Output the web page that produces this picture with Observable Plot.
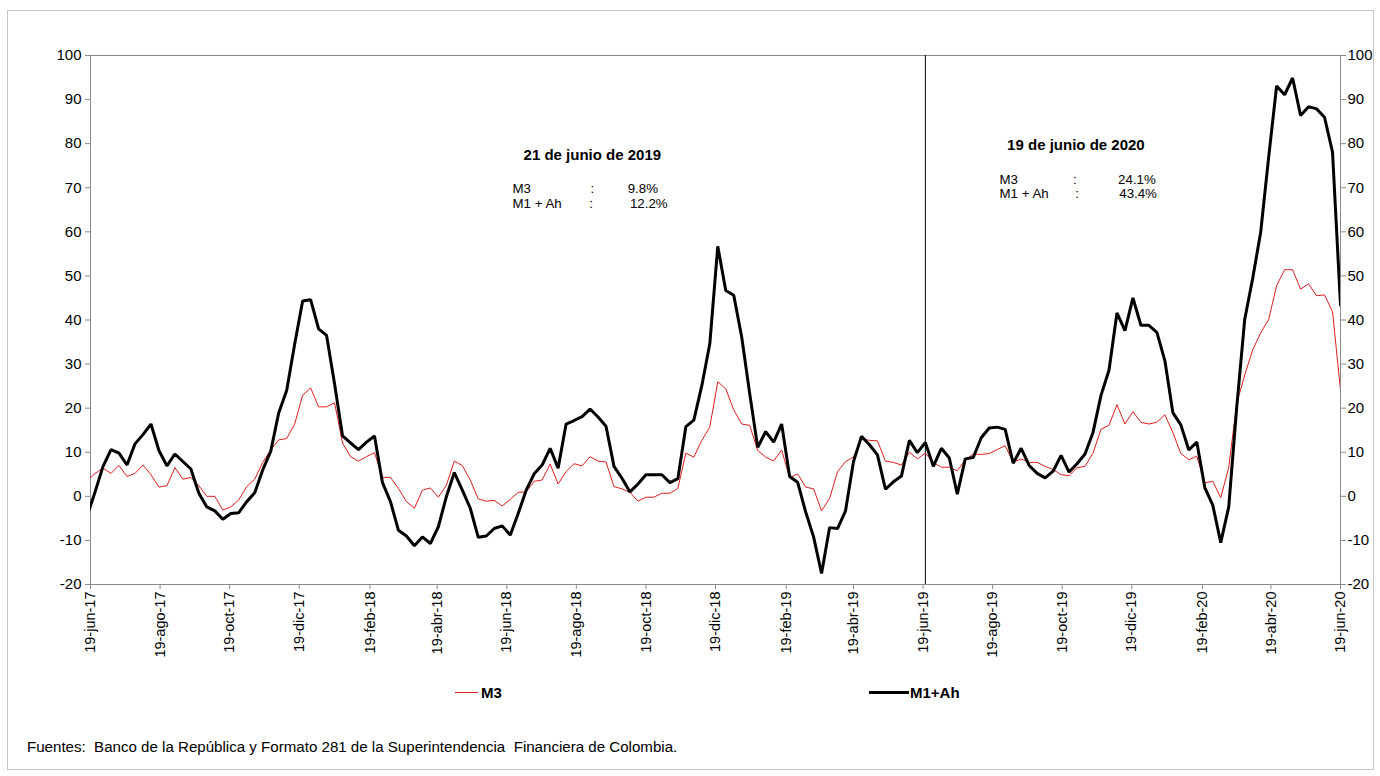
<!DOCTYPE html>
<html>
<head>
<meta charset="utf-8">
<script src="https://cdn.jsdelivr.net/npm/d3@7"></script>
<script src="https://cdn.jsdelivr.net/npm/@observablehq/plot@0.6"></script>
<style>
  html, body { margin: 0; padding: 0; background: #fff; }
  body { width: 1380px; height: 776px; position: relative; overflow: hidden; font-family: "Liberation Sans", Arial, sans-serif; }
  #border { position: absolute; left: 7px; top: 10px; width: 1365px; height: 758px; border: 1px solid #c8c8c8; }
  #chart { position: absolute; left: 0; top: 0; }
  .leg { position: absolute; font-weight: bold; font-size: 15px; color: #000; line-height: 16px; }
  .legline { position: absolute; }
  #footer { position: absolute; left: 27px; top: 738px; font-size: 15.1px; color: #000; line-height: 18px; white-space: nowrap; }
</style>
</head>
<body>
<div id="border"></div>
<div id="chart"></div>
<div class="legline" style="left:455px; top:692px; width:23px; height:1px; background:#e01e1e;"></div>
<div class="leg" style="left:481px; top:685px;">M3</div>
<div class="legline" style="left:869px; top:691px; width:40px; height:3px; background:#000;"></div>
<div class="leg" style="left:910px; top:685px;">M1+Ah</div>
<div id="footer">Fuentes:&nbsp; Banco de la República y Formato 281 de la Superintendencia&nbsp; Financiera de Colombia.</div>
<script>
// ---- Data (weekly, first date 2017-06-16) ----
const firstDate = "2017-06-16";
const m3 = [3.5,
5.2,6.4,5.2,7.0,4.5,5.2,7.1,4.9,2.1,2.4,6.5,3.9,4.3,2.4,0.0,0.0,-3.1,-2.4,-0.8,2.2,
3.9,7.7,10.5,12.8,13.1,16.4,22.9,24.6,20.3,20.3,21.2,12.1,9.0,8.0,9.0,9.9,4.3,4.3,1.8,-1.2,
-2.7,1.4,1.9,-0.2,2.5,8.0,7.0,3.7,-0.6,-1.1,-0.9,-2.2,-0.7,0.9,1.0,3.4,3.7,7.3,2.8,5.6,
7.4,6.9,9.0,8.0,7.8,2.2,1.7,0.9,-1.1,-0.2,-0.2,0.7,0.7,1.8,9.8,8.9,12.7,15.7,26.0,24.4,
19.6,16.4,16.1,10.4,8.9,8.0,10.5,4.2,5.1,2.1,1.7,-3.3,-0.5,5.6,7.9,8.9,13.0,12.7,12.6,8.0,
7.7,7.1,10.0,8.5,9.8,7.7,6.6,6.6,5.8,8.3,9.6,9.5,9.7,10.6,11.5,7.7,8.5,7.7,7.7,6.8,
6.1,4.9,4.7,6.5,6.8,9.8,15.2,16.1,20.8,16.4,19.2,16.8,16.4,16.8,18.5,14.5,9.7,8.3,9.1,3.1,
3.4,-0.3,6.5,21.1,27.5,33.2,37.1,40.1,47.8,51.4,51.4,47.0,48.2,45.5,45.7,41.9,24.1];
const m1ah = [-4.5,
1.0,6.8,10.6,9.8,7.1,11.9,14.0,16.4,10.4,6.9,9.6,7.9,6.2,0.7,-2.4,-3.3,-5.2,-3.9,-3.7,-1.2,
0.8,6.0,10.2,18.9,24.0,34.5,44.3,44.6,38.0,36.5,25.5,13.7,12.1,10.6,12.3,13.7,3.1,-1.2,-7.7,-9.0,
-11.2,-9.2,-10.7,-6.9,-0.1,5.4,1.4,-2.7,-9.3,-9.0,-7.3,-6.7,-8.8,-3.9,1.4,5.1,7.1,10.9,6.4,16.4,
17.2,18.1,19.8,18.0,15.9,6.8,4.1,1.0,2.8,4.9,4.9,4.9,3.1,4.0,15.8,17.3,25.1,34.6,56.7,46.7,
45.6,36.1,23.3,11.1,14.7,12.3,16.4,4.5,3.2,-3.5,-9.2,-17.5,-7.1,-7.3,-3.3,7.9,13.6,11.7,9.4,1.6,
3.3,4.6,12.7,9.9,12.2,6.8,10.9,8.7,0.5,8.5,8.8,13.3,15.5,15.7,15.2,7.5,10.9,7.0,5.2,4.2,
5.7,9.3,5.5,7.4,9.6,14.5,22.9,28.6,41.6,37.6,45.0,38.8,38.8,37.2,30.8,19.0,16.2,10.5,12.3,2.0,
-2.0,-10.5,-2.4,20.2,40.1,49.4,59.9,76.9,93.1,91.1,94.9,86.4,88.4,87.9,86.0,78.1,43.4];

const xTickLabels = ["19-jun-17","19-ago-17","19-oct-17","19-dic-17","19-feb-18","19-abr-18","19-jun-18","19-ago-18","19-oct-18","19-dic-18","19-feb-19","19-abr-19","19-jun-19","19-ago-19","19-oct-19","19-dic-19","19-feb-20","19-abr-20","19-jun-20"];
const yTicks = [-20,-10,0,10,20,30,40,50,60,70,80,90,100];
const markerDate = "2019-06-21";

// annotation texts
const annTitles = [
  {date: "2018-09-02", y: 77.3, text: "21 de junio de 2019"},
  {date: "2019-10-31", y: 79.6, text: "19 de junio de 2020"}
];
const annLabels = [
  {date: "2018-06-24", y: 69.8, text: "M3"},
  {date: "2018-06-24", y: 66.4, text: "M1 + Ah"},
  {date: "2019-08-25", y: 71.9, text: "M3"},
  {date: "2019-08-25", y: 68.7, text: "M1 + Ah"}
];
const annColons = [
  {date: "2018-09-02", y: 69.8, text: ":"},
  {date: "2018-09-01", y: 66.4, text: ":"},
  {date: "2019-10-30", y: 71.9, text: ":"},
  {date: "2019-11-01", y: 68.7, text: ":"}
];
const annValues = [
  {date: "2018-10-03", y: 69.8, text: "9.8%"},
  {date: "2018-10-05", y: 66.4, text: "12.2%"},
  {date: "2019-12-07", y: 71.9, text: "24.1%"},
  {date: "2019-12-08", y: 68.7, text: "43.4%"}
];

// ---- build ----
const monthIdx = {ene:0,feb:1,mar:2,abr:3,may:4,jun:5,jul:6,ago:7,sep:8,oct:9,nov:10,dic:11};
const parseLabel = s => { const [dd, mon, yy] = s.split("-"); return new Date(Date.UTC(2000 + +yy, monthIdx[mon], +dd)); };
const xTickDates = xTickLabels.map(parseLabel);
const labelMap = new Map(xTickDates.map((d, i) => [+d, xTickLabels[i]]));
const d0 = new Date(firstDate + "T00:00:00Z");
const dateAt = i => new Date(+d0 + i * 7 * 864e5);
const m3Data = m3.map((v, i) => ({date: dateAt(i), v}));
const m1Data = m1ah.map((v, i) => ({date: dateAt(i), v}));
const toD = a => a.map(o => ({...o, date: new Date(o.date + "T00:00:00Z")}));

const axisStroke = "#8a8a8a";
const chart = Plot.plot({
  width: 1380,
  height: 680,
  marginLeft: 90,
  marginRight: 40,
  marginTop: 55,
  marginBottom: 96,
  x: {type: "utc", domain: [xTickDates[0], xTickDates[xTickDates.length - 1]]},
  y: {domain: [-20, 100]},
  style: {fontFamily: "'Liberation Sans', Arial, sans-serif", fontSize: "13px", color: "#000", background: "transparent", overflow: "visible"},
  marks: [
    Plot.frame({stroke: axisStroke}),
    Plot.axisY({anchor: "left", ticks: yTicks, tickSize: 5, tickPadding: 4, stroke: axisStroke, fill: "#000", fontSize: 15, label: null, tickFormat: d => String(d)}),
    Plot.axisY({anchor: "right", ticks: yTicks, tickSize: 5, tickPadding: 2, stroke: axisStroke, fill: "#000", fontSize: 15, label: null, tickFormat: d => String(d)}),
    Plot.axisX({anchor: "bottom", ticks: xTickDates, tickFormat: d => labelMap.get(+d), tickRotate: -90, tickSize: 5, tickPadding: 2, stroke: axisStroke, fill: "#000", fontSize: 14.5, label: null}),
    Plot.ruleX([new Date(markerDate + "T00:00:00Z")], {stroke: "#000", strokeWidth: 1}),
    Plot.line(m3Data, {x: "date", y: "v", stroke: "#e01e1e", strokeWidth: 1, clip: true}),
    Plot.line(m1Data, {x: "date", y: "v", stroke: "#000", strokeWidth: 3, strokeLinejoin: "miter", clip: true}),
    Plot.text(toD(annTitles), {x: "date", y: "y", text: "text", fontWeight: "bold", fontSize: 15, fill: "#000"}),
    Plot.text(toD(annLabels), {x: "date", y: "y", text: "text", textAnchor: "start", fontSize: 13.3, fill: "#000"}),
    Plot.text(toD(annColons), {x: "date", y: "y", text: "text", fontSize: 13.3, fill: "#000"}),
    Plot.text(toD(annValues), {x: "date", y: "y", text: "text", textAnchor: "start", fontSize: 13.3, fill: "#000"})
  ]
});
document.getElementById("chart").appendChild(chart);
</script>
</body>
</html>
